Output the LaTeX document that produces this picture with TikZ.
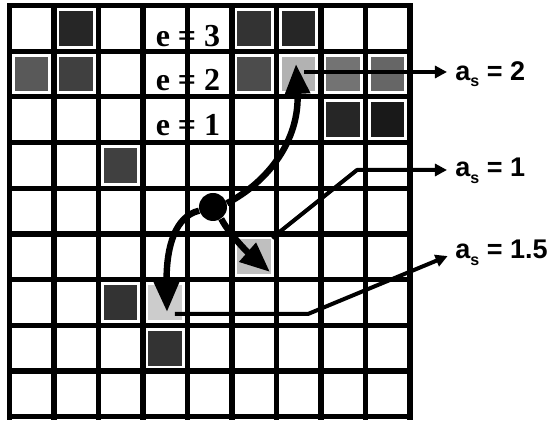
\documentclass[tikz,border=0pt]{standalone}
\usepackage{fontspec}
\setmainfont{Liberation Serif}
\newfontfamily\labelfont{Liberation Sans}
\usetikzlibrary{arrows.meta}

\newcommand{\asub}{a\raisebox{-0.45ex}{\fontsize{8}{8}\selectfont s}}

\tikzset{
  gridline/.style={line width=2.6pt, line cap=rect},
  patch/.style={fill=black!#1, draw=none},
  move/.style={line width=3.2pt, -{Triangle[length=15pt, width=12pt]}},
  pointer/.style={line width=2pt, line join=round, -{Triangle[length=6pt, width=6pt]}},
  elabel/.style={font=\fontsize{16}{16}\selectfont\bfseries, inner sep=0pt},
  alabel/.style={font=\labelfont\fontsize{13.5}{13.5}\selectfont\bfseries, anchor=west, inner sep=0pt},
}

\begin{document}
\begin{tikzpicture}[x=0.5pt, y=-0.5pt]
    \useasboundingbox (0,0) rectangle (559,421);

    % Celle occupate (colonna/riga/tono)
    \foreach \c/\r/\s in {1/0/85, 5/0/80, 6/0/85,
                          0/1/65, 1/1/75, 5/1/70, 6/1/30, 7/1/55, 8/1/60,
                          7/2/85, 8/2/90, 2/3/75, 5/5/25,
                          2/6/80, 3/6/20, 3/7/80}
        \fill[patch=\s] ({9.5+44.5*\c+5.5},{5.5+45.7*\r+5.5}) rectangle ++(33.5,34.7);

    % Griglia 9x9
    \foreach \i in {0,...,9} {
        \draw[gridline] ({9.5+44.5*\i},5.5) -- ({9.5+44.5*\i},417);
        \draw[gridline] (9.5,{5.5+45.7*\i}) -- (410,{5.5+45.7*\i});
    }

    % Livelli e
    \node[elabel] (e3) at (188,36) {e = 3};
    \node[elabel] (e2) at (188,80) {e = 2};
    \node[elabel] (e1) at (188,125) {e = 1};

    % Agente e mosse
    \node[circle, fill, inner sep=0pt, minimum size=14pt] (agent) at (213,207) {};
    \coordinate (tipup) at (296,64);
    \coordinate (tipleft) at (167,312);
    \coordinate (tipright) at (270,272);
    \draw[move] (agent.15) .. controls (268,182) and (300,140) .. (tipup);
    \draw[move] (agent.195) .. controls (176,216) and (166,245) .. (tipleft);
    \draw[move] (agent.-55) .. controls (228,232) and (245,250) .. (tipright);

    % Etichette a_s
    \node[alabel] (as2) at (455,74) {\asub{} = 2};
    \node[alabel] (as1) at (455,171) {\asub{} = 1};
    \node[alabel] (as15) at (455,253) {\asub{} = 1.5};

    \coordinate (from2) at (304,72);
    \coordinate (from1) at (272,238);
    \coordinate (knee1) at (357,170);
    \coordinate (from15) at (175,314);
    \coordinate (knee15) at (308,314);
    \draw[pointer, shorten >=4pt] (from2) -- (from2 -| as2.west);
    \draw[pointer, shorten >=4pt] (from1) -- (knee1) -- (knee1 -| as1.west);
    \draw[pointer, shorten >=4pt] (from15) -- (knee15) -- (as15.west);
\end{tikzpicture}
\end{document}
